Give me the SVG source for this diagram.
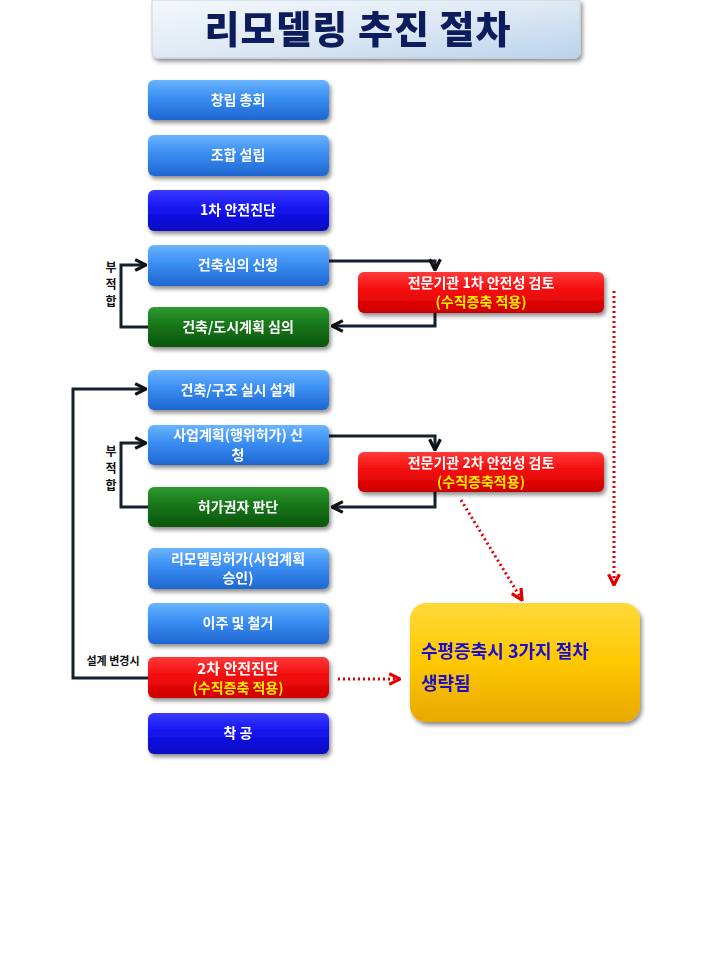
<svg xmlns="http://www.w3.org/2000/svg" width="720" height="960" viewBox="0 0 720 960">
<defs>
<linearGradient id="gBlue" x1="0" y1="0" x2="0" y2="1"><stop offset="0" stop-color="#6ab4ff"/><stop offset="0.45" stop-color="#3a8ef2"/><stop offset="1" stop-color="#1f66d0"/></linearGradient>
<linearGradient id="gDark" x1="0" y1="0" x2="0" y2="1"><stop offset="0" stop-color="#3a3aff"/><stop offset="0.45" stop-color="#1414f0"/><stop offset="1" stop-color="#0a0ac0"/></linearGradient>
<linearGradient id="gGreen" x1="0" y1="0" x2="0" y2="1"><stop offset="0" stop-color="#2e9a2e"/><stop offset="0.45" stop-color="#17761a"/><stop offset="1" stop-color="#0b560c"/></linearGradient>
<linearGradient id="gRed" x1="0" y1="0" x2="0" y2="1"><stop offset="0" stop-color="#ff3a3a"/><stop offset="0.45" stop-color="#f40c0c"/><stop offset="1" stop-color="#cc0000"/></linearGradient>
<linearGradient id="gYellow" x1="0" y1="0" x2="0" y2="1"><stop offset="0" stop-color="#ffd83a"/><stop offset="0.5" stop-color="#ffc800"/><stop offset="1" stop-color="#e8a800"/></linearGradient>
<linearGradient id="gTitle" x1="0" y1="0" x2="1" y2="1"><stop offset="0" stop-color="#f4f8fc"/><stop offset="0.5" stop-color="#dfe9f4"/><stop offset="1" stop-color="#b9d3ee"/></linearGradient>
<filter id="sh" x="-10%" y="-20%" width="125%" height="160%"><feDropShadow dx="2" dy="3" stdDeviation="2" flood-color="#000" flood-opacity="0.45"/></filter>
<marker id="ak" viewBox="0 0 10 10" refX="9" refY="5" markerWidth="4.5" markerHeight="4.5" orient="auto"><path d="M1,1 L9,5 L1,9" fill="none" stroke="#111" stroke-width="2.4"/></marker>
<marker id="ar" viewBox="0 0 10 10" refX="9" refY="5" markerWidth="4.5" markerHeight="4.5" orient="auto"><path d="M1,1 L9,5 L1,9" fill="none" stroke="#e00000" stroke-width="2.4"/></marker>
<style>
.t{font-family:"Noto Sans CJK KR","Noto Sans",sans-serif;font-weight:700;fill:#fff;font-size:14px;text-anchor:middle}
.y{fill:#ffee00}
.c{fill:none;stroke:#14202e;stroke-width:3}
.d{fill:none;stroke:#e00000;stroke-width:3;stroke-dasharray:2 3}
.lb{font-family:"Noto Sans CJK KR","Noto Sans",sans-serif;font-weight:700;fill:#111;font-size:12px;text-anchor:middle}
.yt{font-family:"Noto Sans CJK KR",sans-serif;font-size:18px;fill:#1a10c8;font-weight:700}
</style>
</defs>
<rect width="720" height="960" fill="#fff"/>
<g id="title" filter="url(#sh)">
<path d="M152,0 H580 V52 Q580,58 574,58 H158 Q152,58 152,52 Z" fill="url(#gTitle)" stroke="#c8d4e0"/>
<text x="358" y="43" style="font-family:'Noto Sans CJK KR',sans-serif;font-weight:900;font-size:38px;fill:#0f1f5c;text-anchor:middle;letter-spacing:1px">리모델링 추진 절차</text>
</g>
<g id="connectors">
<polyline class="c" points="329,261 435,261 435,270" marker-end="url(#ak)"/>
<polyline class="c" points="435,313 435,326 332,326" marker-end="url(#ak)"/>
<polyline class="c" points="148,327 121,327 121,265 146,265" marker-end="url(#ak)"/>
<polyline class="c" points="329,436 435,436 435,450" marker-end="url(#ak)"/>
<polyline class="c" points="435,492 435,507 332,507" marker-end="url(#ak)"/>
<polyline class="c" points="148,507 121,507 121,443 146,443" marker-end="url(#ak)"/>
<polyline class="c" points="148,678 73,678 73,389 146,389" marker-end="url(#ak)"/>
<polyline class="d" points="614,291 614,585" marker-end="url(#ar)"/>
<polyline class="d" points="461,500 522,600" marker-end="url(#ar)"/>
<polyline class="d" points="338,679 400,679" marker-end="url(#ar)"/>
<text class="lb" x="111" y="272">부</text>
<text class="lb" x="111" y="289">적</text>
<text class="lb" x="111" y="306">합</text>
<text class="lb" x="111" y="456">부</text>
<text class="lb" x="111" y="473">적</text>
<text class="lb" x="111" y="490">합</text>
<text class="lb" x="113" y="665" style="font-size:11px">설계 변경시</text>
</g>
<g id="n1" filter="url(#sh)"><rect x="148" y="80" width="181" height="40" rx="6" fill="url(#gBlue)"/><text class="t" x="238" y="105">창립 총회</text></g>
<g id="n2" filter="url(#sh)"><rect x="148" y="135" width="181" height="41" rx="6" fill="url(#gBlue)"/><text class="t" x="238" y="160">조합 설립</text></g>
<g id="n3" filter="url(#sh)"><rect x="148" y="190" width="181" height="41" rx="6" fill="url(#gDark)"/><text class="t" x="238" y="215">1차 안전진단</text></g>
<g id="n4" filter="url(#sh)"><rect x="148" y="245" width="181" height="41" rx="6" fill="url(#gBlue)"/><text class="t" x="238" y="270">건축심의 신청</text></g>
<g id="n5" filter="url(#sh)"><rect x="148" y="307" width="181" height="40" rx="6" fill="url(#gGreen)"/><text class="t" x="238" y="332">건축/도시계획 심의</text></g>
<g id="n6" filter="url(#sh)"><rect x="148" y="370" width="181" height="40" rx="6" fill="url(#gBlue)"/><text class="t" x="238" y="395">건축/구조 실시 설계</text></g>
<g id="n7" filter="url(#sh)"><rect x="148" y="425" width="181" height="40" rx="6" fill="url(#gBlue)"/><text class="t" x="238" y="440">사업계획(행위허가) 신</text><text class="t" x="238" y="460">청</text></g>
<g id="n8" filter="url(#sh)"><rect x="148" y="487" width="181" height="40" rx="6" fill="url(#gGreen)"/><text class="t" x="238" y="512">허가권자 판단</text></g>
<g id="n9" filter="url(#sh)"><rect x="148" y="548" width="181" height="41" rx="6" fill="url(#gBlue)"/><text class="t" x="238" y="564">리모델링허가(사업계획</text><text class="t" x="238" y="583">승인)</text></g>
<g id="n10" filter="url(#sh)"><rect x="148" y="603" width="181" height="41" rx="6" fill="url(#gBlue)"/><text class="t" x="238" y="628">이주 및 철거</text></g>
<g id="n11" filter="url(#sh)"><rect x="148" y="657" width="181" height="41" rx="6" fill="url(#gRed)"/><text class="t" x="238" y="674" style="font-size:15px">2차 안전진단</text><text class="t y" x="238" y="693">(수직증축 적용)</text></g>
<g id="n12" filter="url(#sh)"><rect x="148" y="713" width="181" height="41" rx="6" fill="url(#gDark)"/><text class="t" x="238" y="738">착 공</text></g>
<g id="r1" filter="url(#sh)"><rect x="358" y="272" width="246" height="41" rx="6" fill="url(#gRed)"/><text class="t" x="481" y="288">전문기관 1차 안전성 검토</text><text class="t y" x="481" y="307">(수직증축 적용)</text></g>
<g id="r2" filter="url(#sh)"><rect x="358" y="452" width="246" height="40" rx="6" fill="url(#gRed)"/><text class="t" x="481" y="468">전문기관 2차 안전성 검토</text><text class="t y" x="481" y="487">(수직증축적용)</text></g>
<g id="y1" filter="url(#sh)"><rect x="410" y="603" width="230" height="119" rx="16" fill="url(#gYellow)"/><text class="yt" x="421" y="658">수평증축시 3가지 절차</text><text class="yt" x="421" y="690">생략됨</text></g>
</svg>
